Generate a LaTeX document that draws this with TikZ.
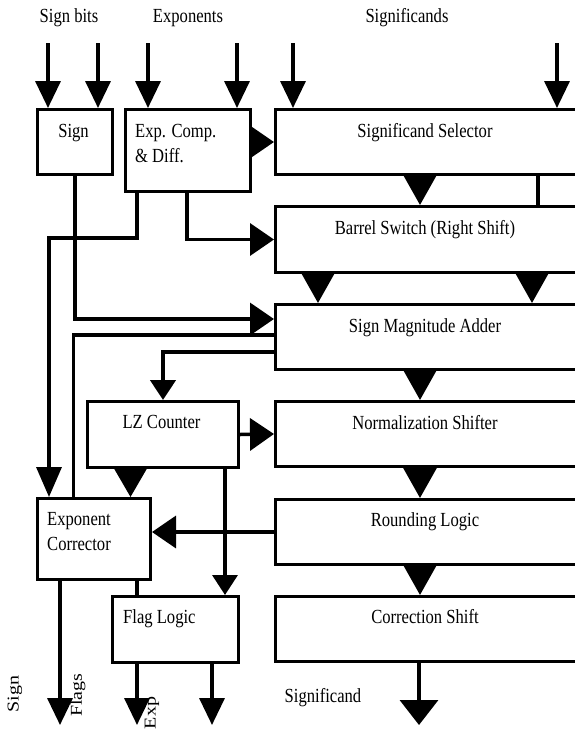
\documentclass[tikz,border=0pt]{standalone}
\usepackage{fontspec}
\setmainfont[FakeStretch=0.83]{Liberation Serif}
\newfontfamily\plainserif{Liberation Serif}
\usetikzlibrary{arrows.meta}
\newcommand\vlab[1]{\scalebox{0.83}[1]{\rotatebox{90}{\plainserif\fontsize{20}{24}\selectfont #1}}}
\begin{document}
\begin{tikzpicture}[x=1pt,y=-1pt,
  box/.style={draw, line width=3pt, inner sep=0pt, anchor=north west},
  rbox/.style={box, minimum width=304pt, minimum height=65pt},
  txt/.style={inner sep=0pt, font=\fontsize{20}{24}\selectfont},
  wire/.style={line width=3.5pt},
  dn/.style={wire,-{Triangle[length=27pt,width=25pt]}},
  dnshort/.style={wire,-{Triangle[length=20pt,width=25pt]}},
  dnlong/.style={wire,-{Triangle[length=30pt,width=25pt]}},
  side/.style={wire,-{Triangle[length=24pt,width=32pt]}},
  gap/.style={wire,-{Triangle[length=32pt,width=35pt]}},
  outsig/.style={wire,-{Triangle[length=25pt,width=38pt]}},
]
\useasboundingbox (0,0) rectangle (574,729);
\fill[white] (0,0) rectangle (574,729);

% right column boxes
\node[rbox] (sel) at (274,108) {};
\node[rbox, minimum height=66pt] (bar) at (274,205) {};
\node[rbox] (sma) at (274,303) {};
\node[rbox] (norm) at (274,400) {};
\node[rbox] (round) at (274,498) {};
\node[rbox] (corr) at (274,595) {};

% left boxes
\node[box, minimum width=75pt, minimum height=65pt] (sign) at (36,108) {};
\node[box, minimum width=125pt, minimum height=82pt] (exp) at (124,108) {};
\node[box, minimum width=151pt, minimum height=66pt] (lz) at (86,400) {};
\node[box, minimum width=113pt, minimum height=81pt] (expc) at (36,497) {};
\node[box, minimum width=126pt, minimum height=66pt] (flag) at (111,595) {};

% box texts
\node[txt, anchor=base] (selT) at (425,137) {Significand Selector};
\node[txt, anchor=base] (barT) at (425,234) {Barrel Switch (Right Shift)};
\node[txt, anchor=base] (smaT) at (425,332) {Sign Magnitude Adder};
\node[txt, anchor=base] (normT) at (425,429) {Normalization Shifter};
\node[txt, anchor=base] (roundT) at (425,526) {Rounding Logic};
\node[txt, anchor=base] (corrT) at (425,623) {Correction Shift};
\node[txt, anchor=base] (signT) at (73.5,137) {Sign};
\node[txt, anchor=base west] (expT1) at (135,137) {Exp. Comp.};
\node[txt, anchor=base west] (expT2) at (135,162) {\& Diff.};
\node[txt, anchor=base] (lzT) at (161.5,428) {LZ Counter};
\node[txt, anchor=base west] (expcT1) at (47,525) {Exponent};
\node[txt, anchor=base west] (expcT2) at (47,550) {Corrector};
\node[txt, anchor=base west] (flagT) at (123,623) {Flag Logic};

% top labels
\node[txt, anchor=base] (lsb) at (69,22) {Sign bits};
\node[txt, anchor=base] (lexp) at (188,22) {Exponents};
\node[txt, anchor=base] (lsig) at (407,22) {Significands};

% bottom labels
\node[inner sep=0pt] (lsign) at (15,694) {\vlab{Sign}};
\node[inner sep=0pt] (lflags) at (78,695) {\vlab{Flags}};
\node[inner sep=0pt] (lexpo) at (152,713) {\vlab{Exp}};
\node[txt, anchor=base] (lsigo) at (323,702) {Significand};

% input arrows
\coordinate (i1) at (48,43);
\coordinate (i2) at (98,43);
\coordinate (i3) at (148,43);
\coordinate (i4) at (237,43);
\coordinate (i5) at (293,43);
\coordinate (i6) at (557,43);
\draw[dn] (i1) -- (i1 |- sign.north);
\draw[dn] (i2) -- (i2 |- sign.north);
\draw[dn] (i3) -- (i3 |- exp.north);
\draw[dn] (i4) -- (i4 |- exp.north);
\draw[dn] (i5) -- (i5 |- sel.north);
\draw[dn] (i6) -- (i6 |- sel.north);

% right column flow
\draw[side] (sel.west -| exp.east) -- (sel.west);
\draw[gap] (sel.south -| 420,0) -- (bar.north -| 420,0);
\draw[wire] (sel.south -| 538,0) -- (bar.north -| 538,0);
\draw[gap] (bar.south -| 318,0) -- (sma.north -| 318,0);
\draw[gap] (bar.south -| 532,0) -- (sma.north -| 532,0);
\draw[gap] (sma.south -| 420,0) -- (norm.north -| 420,0);
\draw[gap] (norm.south -| 420,0) -- (round.north -| 420,0);
\draw[gap] (round.south -| 420,0) -- (corr.north -| 420,0);
\coordinate (sigout) at (419,725);
\draw[outsig] (corr.south -| sigout) -- (sigout);

% left side wiring
\draw[side] (sign.south) |- (sma.west |- 0,319);
\draw[wire] (sma.west |- 0,335) -| (expc.north -| 73.5,0);
\coordinate (c1) at (49,238);
\draw[dnlong] (exp.south -| 137,0) |- (c1) -- (expc.north -| c1);
\draw[side] (exp.south -| 187,0) |- (bar.west);
\draw[dnshort, line width=4.5pt] (sma.west |- 0,352) -| (lz.north);
\draw[side] (lz.east) -- (norm.west);
\draw[wire,-{Triangle[length=31pt,width=35pt]}] (lz.south -| 130.5,0) -- (expc.north -| 130.5,0);
\draw[dnshort] (lz.south -| 225,0) -- (flag.north -| 225,0);
\draw[side] (round.west) -- (expc.east |- round.west);
\draw[wire] (expc.south -| 137,0) -- (flag.north -| 137,0);

% outputs
\coordinate (o1) at (60,725);
\coordinate (o2) at (137,725);
\coordinate (o3) at (212,725);
\draw[dn] (expc.south -| o1) -- (o1);
\draw[dn] (flag.south -| o2) -- (o2);
\draw[dn] (flag.south -| o3) -- (o3);
\end{tikzpicture}
\end{document}
